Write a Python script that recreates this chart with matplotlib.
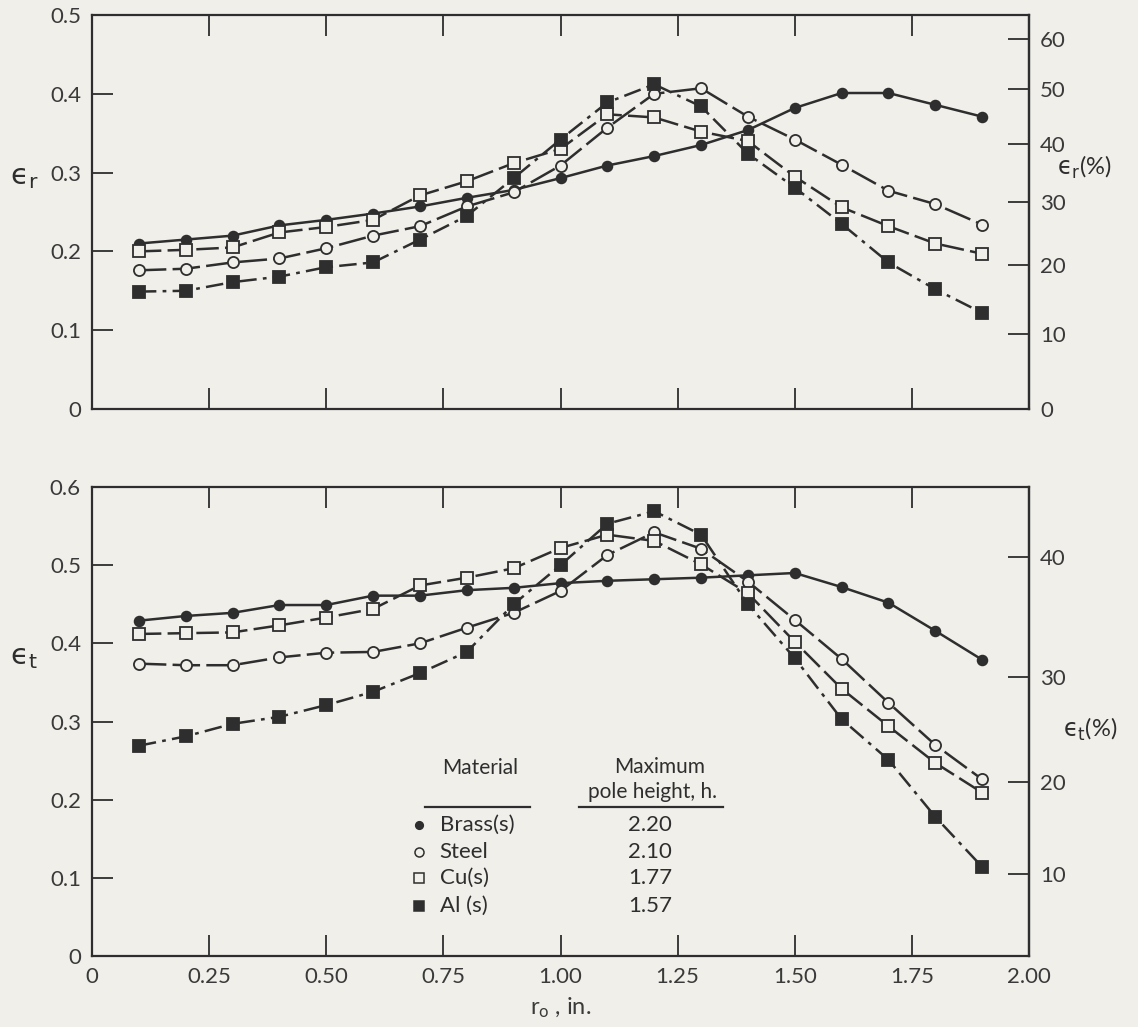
import numpy as np
import matplotlib.pyplot as plt
from matplotlib.lines import Line2D

plt.rcParams['font.family'] = ['Lato', 'DejaVu Sans']
plt.rcParams['mathtext.fontset'] = 'dejavusans'

BG = '#f0efea'
INK = '#2e2e2e'

# r0 positions (in.)
r0 = [0.1, 0.2, 0.3, 0.4, 0.5, 0.6, 0.7, 0.8, 0.9, 1.0,
      1.1, 1.2, 1.3, 1.4, 1.5, 1.6, 1.7, 1.8, 1.9]

# radial strain, top panel
er_brass = [0.210, 0.215, 0.220, 0.233, 0.240, 0.248, 0.257, 0.268, 0.278, 0.293,
            0.309, 0.321, 0.335, 0.354, 0.382, 0.401, 0.401, 0.386, 0.371]
er_steel = [0.176, 0.178, 0.186, 0.191, 0.204, 0.220, 0.232, 0.257, 0.275, 0.309,
            0.357, 0.400, 0.407, 0.371, 0.342, 0.310, 0.277, 0.260, 0.234]
er_cu = [0.200, 0.202, 0.205, 0.224, 0.231, 0.240, 0.271, 0.289, 0.312, 0.330,
         0.374, 0.370, 0.352, 0.340, 0.295, 0.256, 0.232, 0.210, 0.197]
er_al = [0.149, 0.150, 0.161, 0.168, 0.180, 0.186, 0.215, 0.245, 0.293, 0.342,
         0.389, 0.412, 0.384, 0.324, 0.281, 0.235, 0.186, 0.152, 0.122]

# thickness strain, bottom panel
et_brass = [0.429, 0.435, 0.439, 0.449, 0.449, 0.461, 0.461, 0.468, 0.471, 0.477,
            0.480, 0.482, 0.484, 0.487, 0.490, 0.472, 0.452, 0.416, 0.379]
et_steel = [0.374, 0.372, 0.372, 0.382, 0.388, 0.389, 0.400, 0.420, 0.439, 0.467,
            0.513, 0.542, 0.521, 0.479, 0.430, 0.380, 0.324, 0.270, 0.226]
et_cu = [0.412, 0.413, 0.414, 0.423, 0.433, 0.444, 0.474, 0.484, 0.496, 0.522,
         0.539, 0.531, 0.501, 0.464, 0.402, 0.342, 0.294, 0.247, 0.209]
et_al = [0.269, 0.281, 0.297, 0.306, 0.321, 0.338, 0.362, 0.389, 0.450, 0.500,
         0.553, 0.569, 0.539, 0.450, 0.381, 0.303, 0.251, 0.178, 0.114]

materials = ['Brass(s)', 'Steel', 'Cu(s)', 'Al (s)']
pole_heights = ['2.20', '2.10', '1.77', '1.57']

styles = [
    dict(marker='o', mfc=INK, ms=7, ls='-'),
    dict(marker='o', mfc=BG, ms=8, ls=(0, (11, 2.5))),
    dict(marker='s', mfc=BG, ms=8.5, ls=(0, (9, 2.5))),
    dict(marker='s', mfc=INK, ms=8.5, ls=(0, (7, 2.5, 1.5, 2.5))),
]

fig = plt.figure(figsize=(11.38, 10.27), dpi=100, facecolor=BG)
ax1 = fig.add_axes([92 / 1138, 1 - 409 / 1027, 937 / 1138, 394 / 1027])
ax2 = fig.add_axes([92 / 1138, 1 - 956 / 1027, 937 / 1138, 469 / 1027])


def style_axes(ax, ymax, yticks):
    ax.set_facecolor(BG)
    ax.set_xlim(0, 2.0)
    ax.set_ylim(0, ymax)
    ax.set_xticks([0, 0.25, 0.5, 0.75, 1.0, 1.25, 1.5, 1.75, 2.0])
    ax.set_yticks(yticks)
    ax.set_yticklabels(['0' if t == 0 else f'{t:.1f}' for t in yticks])
    ax.tick_params(direction='in', length=15, width=1.3, color=INK,
                   labelsize=16, labelcolor='#3a3a3a', top=True, pad=8)
    for s in ax.spines.values():
        s.set_color(INK)
        s.set_linewidth(1.6)


style_axes(ax1, 0.5, [0, 0.1, 0.2, 0.3, 0.4, 0.5])
ax1.tick_params(labelbottom=False)
style_axes(ax2, 0.6, [0, 0.1, 0.2, 0.3, 0.4, 0.5, 0.6])
ax2.set_xticklabels(['0', '0.25', '0.50', '0.75', '1.00', '1.25', '1.50', '1.75', '2.00'])

for ys, st in zip([er_brass, er_steel, er_cu, er_al], styles):
    ax1.plot(r0, ys, color=INK, lw=1.8, mec=INK, mew=1.3, **st)
for ys, st in zip([et_brass, et_steel, et_cu, et_al], styles):
    ax2.plot(r0, ys, color=INK, lw=1.8, mec=INK, mew=1.3, **st)

# right-hand percent scales
sec1 = ax1.secondary_yaxis('right', functions=(
    lambda e: (np.exp(e) - 1) * 100,
    lambda p: np.log1p(np.clip(p, -99, None) / 100)))
sec1.set_yticks([0, 10, 20, 30, 40, 50, 60])
sec2 = ax2.secondary_yaxis('right', functions=(
    lambda e: (1 - np.exp(-e)) * 100,
    lambda p: -np.log(1 - np.clip(p, None, 99) / 100)))
sec2.set_yticks([10, 20, 30, 40])
for sec in (sec1, sec2):
    sec.tick_params(direction='in', length=15, width=1.3, color=INK,
                    labelsize=16, labelcolor='#3a3a3a', pad=8)
    sec.spines['right'].set_color(INK)
    sec.spines['right'].set_linewidth(1.6)

# axis labels
fig.text(24 / 1138, 1 - 178 / 1027, r'$\mathrm{ϵ}_\mathrm{r}$', fontsize=21, color=INK,
         ha='center', va='center')
fig.text(24 / 1138, 1 - 658 / 1027, r'$\mathrm{ϵ}_\mathrm{t}$', fontsize=21, color=INK,
         ha='center', va='center')
fig.text(1084 / 1138, 1 - 167 / 1027, r'$\mathrm{ϵ}_\mathrm{r}$(%)', fontsize=17, color=INK,
         ha='center', va='center')
fig.text(1090 / 1138, 1 - 729 / 1027, r'$\mathrm{ϵ}_\mathrm{t}$(%)', fontsize=17, color=INK,
         ha='center', va='center')
ax2.set_xlabel(r'$\mathregular{r_o}$ , in.', fontsize=17, color='#3a3a3a', labelpad=6)

# legend table
tr = ax2.transAxes
ax2.text(0.414, 0.401, 'Material', transform=tr, fontsize=15, color=INK,
         ha='center', va='center')
ax2.text(0.606, 0.403, 'Maximum', transform=tr, fontsize=15, color=INK,
         ha='center', va='center')
ax2.text(0.598, 0.350, 'pole height, h.', transform=tr, fontsize=15, color=INK,
         ha='center', va='center')
ax2.add_line(Line2D([0.355, 0.467], [0.318, 0.318], transform=tr, color=INK, lw=1.6))
ax2.add_line(Line2D([0.520, 0.673], [0.318, 0.318], transform=tr, color=INK, lw=1.6))
row_y = [0.279, 0.222, 0.166, 0.107]
for yy, name, h, st in zip(row_y, materials, pole_heights, styles):
    ax2.plot([0.349], [yy], transform=tr, ls='none', marker=st['marker'],
             mfc=st['mfc'], mec=INK, mew=1.1, ms=st['ms'] - 1.5)
    ax2.text(0.371, yy, name, transform=tr, fontsize=16, color=INK,
             ha='left', va='center')
    ax2.text(0.5955, yy, h, transform=tr, fontsize=16, color=INK,
             ha='center', va='center')

fig.savefig('out.png', dpi=100, facecolor=BG)
